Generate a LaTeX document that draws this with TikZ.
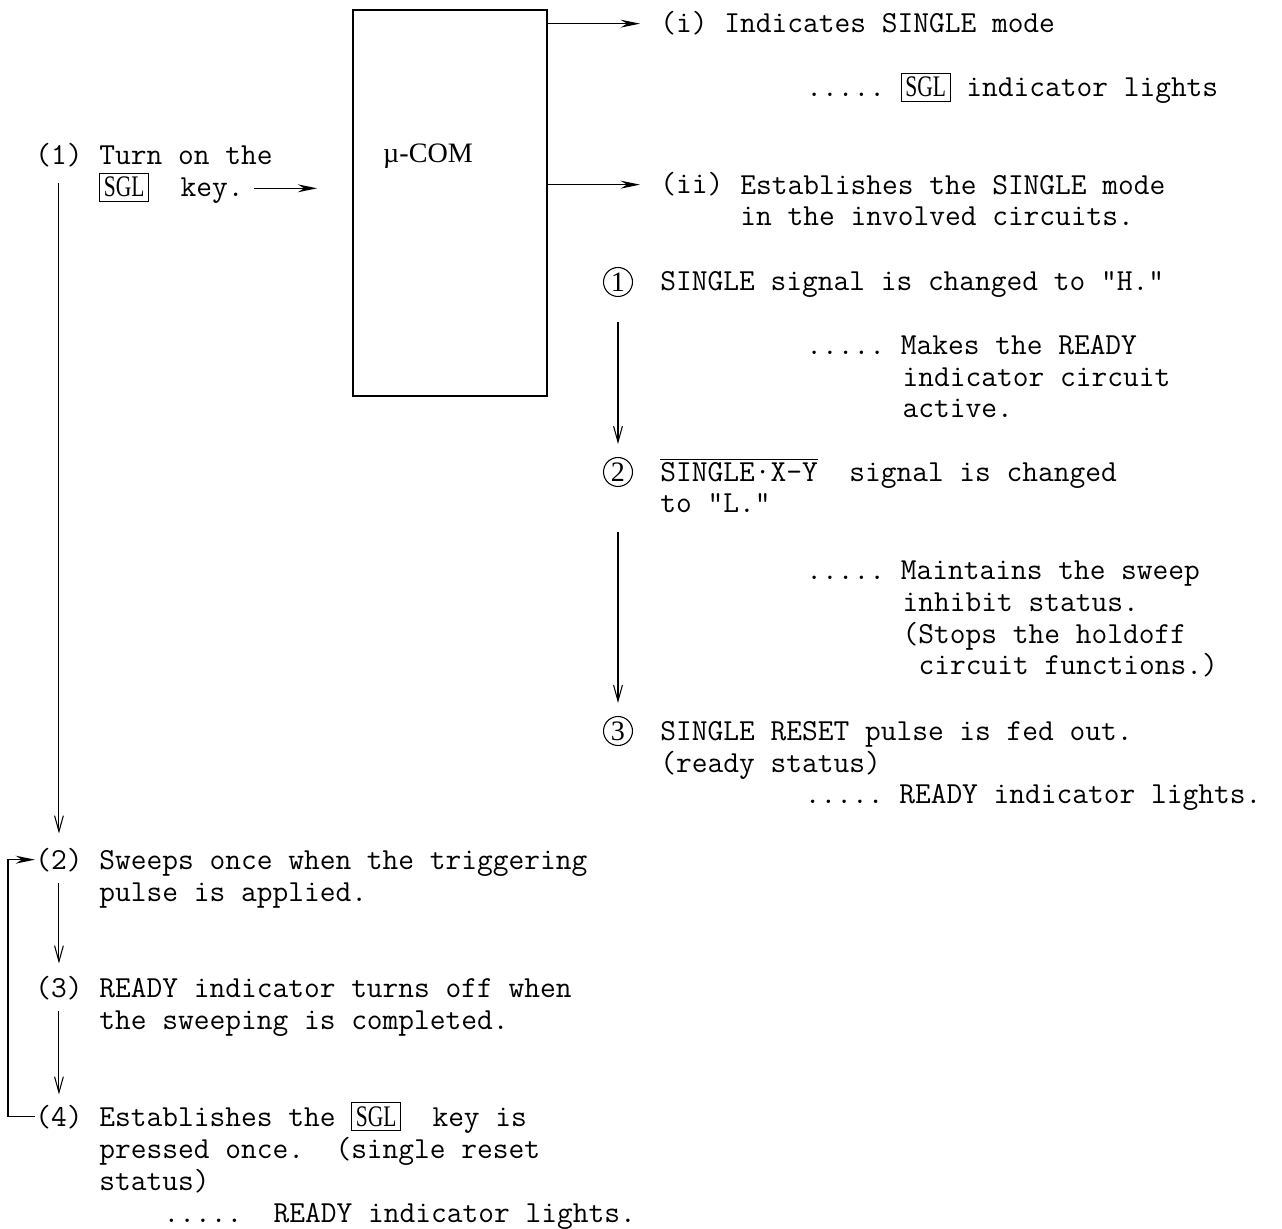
\documentclass[tikz,border=0pt]{standalone}
\usepackage{fontspec}
\usepackage{graphicx}
\usepackage{tikz}
\usetikzlibrary{arrows.meta, positioning}
\newfontfamily\keyfont{Liberation Serif}
\newcommand{\sglkey}{{\setlength{\fboxsep}{2pt}\setlength{\fboxrule}{0.6pt}\fbox{\keyfont\fontsize{17pt}{17pt}\selectfont\scalebox{0.72}[1]{SGL}}}}
\frenchspacing

\begin{document}
\begin{tikzpicture}[
    x=0.02cm, y=-0.02cm,
    txt/.style={anchor=base west, inner sep=0pt, align=left, font=\ttfamily\fontsize{17.4pt}{18.2pt}\selectfont},
    num/.style={circle, draw, line width=0.6pt, inner sep=0pt, minimum size=0.58cm, font=\keyfont\fontsize{16pt}{16pt}\selectfont},
    flow/.style={-{Straight Barb[length=9pt,width=5pt]}, line width=0.6pt},
    feed/.style={-{Stealth[length=11pt,width=4.5pt]}, line width=0.7pt},
]

\useasboundingbox (0,0) rectangle (1282,1229);

% Microcomputer block
\node[draw, line width=1pt, minimum width=3.88cm, minimum height=7.72cm] (mcom) at (450,203) {};
\node[font=\keyfont\fontsize{16pt}{16pt}\selectfont] (mcomlbl) at (428,156) {µ-COM};

% Operation steps (multi-line texts sit on their last baseline)
\node[txt] (n1) at (35,165) {(1)};
\node[txt] (b1) at (99,165) {Turn on the};
\node[txt] (k1) at (99,197) {\sglkey~~key.};
\node[txt] (n2) at (35,869) {(2)};
\node[txt] (b2) at (99,901) {Sweeps once when the triggering\\pulse is applied.};
\node[txt] (n3) at (35,997) {(3)};
\node[txt] (b3) at (99,1029) {READY indicator turns off when\\the sweeping is completed.};
\node[txt] (n4) at (35,1126) {(4)};
\node[txt] (b4) at (99,1222) {Establishes the \sglkey~~key is\\pressed once.~~(single reset\\status)\\\hspace*{2.1em}.....~~READY indicator lights.};

% Microcomputer outputs
\node[txt] (ni) at (660,33) {(i)};
\node[txt] (bi) at (724,33) {Indicates SINGLE mode};
\node[txt] (ri) at (806,97) {.....~\sglkey~indicator lights};
\node[txt] (nii) at (660,194) {(ii)};
\node[txt] (bii) at (740,226) {Establishes the SINGLE mode\\in the involved circuits.};

% Circuit signals
\node[num] (c1) at (618,282) {1};
\node[txt] (s1) at (660,291) {SINGLE signal is changed to "H."};
\node[txt] (r1) at (806,418) {.....~Makes the READY\\\hspace*{3.15em}indicator circuit\\\hspace*{3.15em}active.};
\node[num] (c2) at (618,472) {2};
\node[txt] (s2) at (660,513) {$\overline{\mbox{SINGLE·X-Y}}$~~signal is changed\\to "L."};
\node[txt] (r2) at (806,675) {.....~Maintains the sweep\\\hspace*{3.15em}inhibit status.\\\hspace*{3.15em}(Stops the holdoff\\\hspace*{3.675em}circuit functions.)};
\node[num] (c3) at (618,731) {3};
\node[txt] (s3) at (660,804) {SINGLE RESET pulse is fed out.\\(ready status)\\\hspace*{4.725em}.....~READY indicator lights.};

% Arrows
\draw[feed, shorten <=0.2cm, shorten >=0.7cm] (k1.east) -- (k1.east -| mcom.west);
\draw[feed, shorten >=0.4cm] (mcom.east |- ni.west) -- (ni.west);
\draw[feed, shorten >=0.4cm] (mcom.east |- nii.west) -- (nii.west);
\draw[flow, shorten <=0.3cm, shorten >=0.28cm] (n1.south) -- (n2.north);
\draw[flow, shorten <=0.22cm, shorten >=0.24cm] (n2.south) -- (n3.north);
\draw[flow, shorten <=0.22cm, shorten >=0.2cm] (n3.south) -- (n4.north);
\draw[feed] (n4.west) -- ++(-27,0) |- (n2.west);
\draw[flow, shorten <=0.5cm, shorten >=0.26cm] (c1) -- (c2);
\draw[flow, shorten <=0.9cm, shorten >=0.26cm] (c2) -- (c3);

\end{tikzpicture}
\end{document}
